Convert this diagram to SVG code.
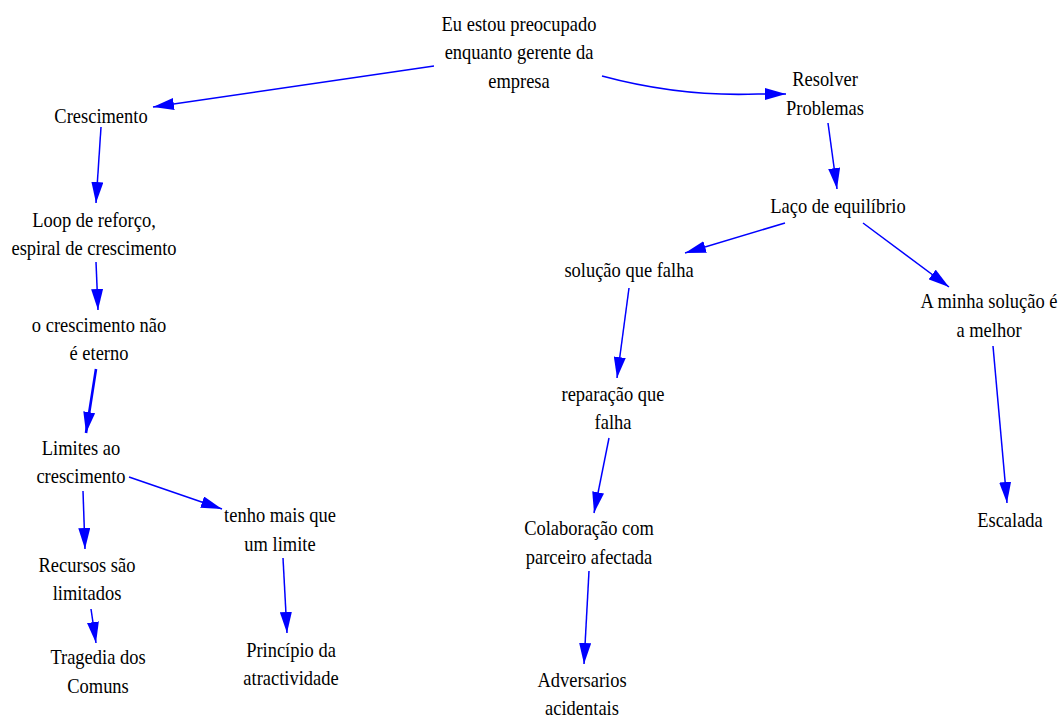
<svg xmlns="http://www.w3.org/2000/svg" width="1062" height="718" viewBox="0 0 1062 718">
  <style>
    .edge { fill: none; stroke: #0000ff; stroke-width: 1.5; marker-end: url(#head); }
    .edge.bold { stroke-width: 2.6; }
  </style>
  <defs>
    <marker id="head" markerUnits="userSpaceOnUse" markerWidth="22" markerHeight="12" refX="21" refY="6" orient="auto">
      <path d="M0,0 L21,6 L0,12 Z" fill="#0000ff"/>
    </marker>
  </defs>
  <rect width="1062" height="718" fill="#fff"/>

  <!-- connectors -->
  <g id="connectors">
    <path class="edge" d="M434,66 L153,107"/>
    <path class="edge" d="M602,76 Q680,97 758,94 L786,94"/>
    <path class="edge" d="M828,123 L837,189"/>
    <path class="edge" d="M785,223 L685,253"/>
    <path class="edge" d="M863,223 L949,287"/>
    <path class="edge" d="M629,288 L617,378"/>
    <path class="edge" d="M993,346 L1007,503"/>
    <path class="edge" d="M609,438 L594,513"/>
    <path class="edge" d="M589,571 L584,664"/>
    <path class="edge" d="M101,127 L96,203"/>
    <path class="edge" d="M96,262 L98,310"/>
    <path class="edge bold" d="M96,369 L86,433"/>
    <path class="edge" d="M83,491 L85,549"/>
    <path class="edge" d="M129,477 L222,509"/>
    <path class="edge" d="M91,609 L96,643"/>
    <path class="edge" d="M283,558 L287,633"/>
  </g>

  <!-- nodes: labels in a horizontally condensed serif -->
  <g id="nodes" font-family="Liberation Serif, serif" font-size="22" text-anchor="middle" fill="#000">
  <g id="n-gerente" transform="translate(519 0) scale(0.84 1)">
    <text><tspan x="0" y="31">Eu estou preocupado</tspan><tspan x="0" y="59.5">enquanto gerente da</tspan><tspan x="0" y="88">empresa</tspan></text>
  </g>
  <g id="n-crescimento" transform="translate(101 0) scale(0.84 1)">
    <text x="0" y="123">Crescimento</text>
  </g>
  <g id="n-resolver" transform="translate(825 0) scale(0.84 1)">
    <text><tspan x="0" y="86">Resolver</tspan><tspan x="0" y="115">Problemas</tspan></text>
  </g>
  <g id="n-equilibrio" transform="translate(838 0) scale(0.84 1)">
    <text x="0" y="213">Laço de equilíbrio</text>
  </g>
  <g id="n-solucao-falha" transform="translate(629 0) scale(0.84 1)">
    <text x="0" y="277">solução que falha</text>
  </g>
  <g id="n-melhor" transform="translate(989 0) scale(0.84 1)">
    <text><tspan x="0" y="308">A minha solução é</tspan><tspan x="0" y="337">a melhor</tspan></text>
  </g>
  <g id="n-loop" transform="translate(94 0) scale(0.84 1)">
    <text><tspan x="0" y="227">Loop de reforço,</tspan><tspan x="0" y="255">espiral de crescimento</tspan></text>
  </g>
  <g id="n-eterno" transform="translate(99 0) scale(0.84 1)">
    <text><tspan x="0" y="332">o crescimento não</tspan><tspan x="0" y="360">é eterno</tspan></text>
  </g>
  <g id="n-limites" transform="translate(81 0) scale(0.84 1)">
    <text><tspan x="0" y="455">Limites ao</tspan><tspan x="0" y="483">crescimento</tspan></text>
  </g>
  <g id="n-recursos" transform="translate(87 0) scale(0.84 1)">
    <text><tspan x="0" y="572">Recursos são</tspan><tspan x="0" y="600">limitados</tspan></text>
  </g>
  <g id="n-tragedia" transform="translate(98 0) scale(0.84 1)">
    <text><tspan x="0" y="664">Tragedia dos</tspan><tspan x="0" y="693">Comuns</tspan></text>
  </g>
  <g id="n-limite" transform="translate(280 0) scale(0.84 1)">
    <text><tspan x="0" y="522">tenho mais que</tspan><tspan x="0" y="551">um limite</tspan></text>
  </g>
  <g id="n-atractividade" transform="translate(291 0) scale(0.84 1)">
    <text><tspan x="0" y="657">Princípio da</tspan><tspan x="0" y="685">atractividade</tspan></text>
  </g>
  <g id="n-reparacao" transform="translate(613 0) scale(0.84 1)">
    <text><tspan x="0" y="401">reparação que</tspan><tspan x="0" y="429">falha</tspan></text>
  </g>
  <g id="n-colaboracao" transform="translate(589 0) scale(0.84 1)">
    <text><tspan x="0" y="535">Colaboração com</tspan><tspan x="0" y="564">parceiro afectada</tspan></text>
  </g>
  <g id="n-adversarios" transform="translate(582 0) scale(0.84 1)">
    <text><tspan x="0" y="687">Adversarios</tspan><tspan x="0" y="715">acidentais</tspan></text>
  </g>
  <g id="n-escalada" transform="translate(1010 0) scale(0.84 1)">
    <text x="0" y="527">Escalada</text>
  </g>
  </g>
</svg>
